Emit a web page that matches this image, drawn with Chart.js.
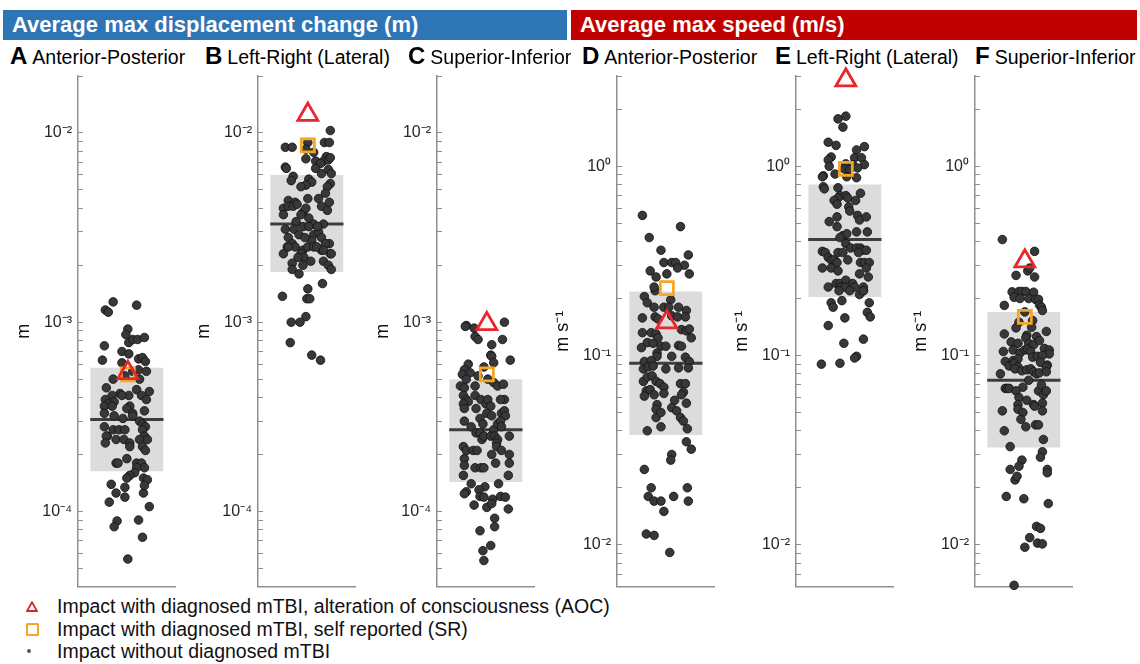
<!DOCTYPE html>
<html>
<head>
<meta charset="utf-8">
<script src="https://cdn.jsdelivr.net/npm/chart.js@4.4.1/dist/chart.umd.min.js"></script>
<style>
  body { margin: 0; width: 1140px; height: 664px; background: #fff; position: relative; overflow: hidden;
         font-family: "Liberation Sans", Arial, Helvetica, sans-serif; }
  .bar { position: absolute; top: 10px; height: 30px; line-height: 30px; color: #fff; font-weight: bold;
         font-size: 22px; padding-left: 9px; box-sizing: border-box; white-space: nowrap; }
  .ttl { position: absolute; top: 43px; font-size: 19.5px; line-height: 26px; color: #000; white-space: nowrap; }
  .ttl b { font-size: 24px; margin-right: 5px; }
  .panel { position: absolute; }
  .legend { position: absolute; left: 0; top: 595px; font-size: 19.5px; color: #111; }
  .legend .row { position: relative; height: 22.5px; line-height: 22.5px; padding-left: 57px; white-space: nowrap; }
  .legend svg { position: absolute; left: 26px; top: 6px; }
  .legend .sq { position: absolute; left: 26px; top: 5px; width: 9px; height: 9px; border: 2.5px solid #f5a623; border-radius: 1.5px; }
  .legend .dot { position: absolute; left: 27px; top: 9px; width: 4px; height: 4px; border-radius: 50%; background: #555; }
</style>
</head>
<body>
<div class="bar" style="left:3px;width:564px;background:#2e75b6;">Average max displacement change (m)</div>
<div class="bar" style="left:571px;width:566px;background:#c00000;">Average max speed (m/s)</div>

<div class="legend">
  <div class="row"><svg width="12" height="11"><polygon points="6,1.2 11,10 1,10" fill="none" stroke="#d42a2f" stroke-width="1.8"/></svg>Impact with diagnosed mTBI, alteration of consciousness (AOC)</div>
  <div class="row"><span class="sq"></span>Impact with diagnosed mTBI, self reported (SR)</div>
  <div class="row"><span class="dot"></span>Impact without diagnosed mTBI</div>
</div>

<script>
// panel titles
const panelLetters = ["A", "B", "C", "D", "E", "F"];
const panelNames = ["Anterior-Posterior", "Left-Right (Lateral)", "Superior-Inferior",
                    "Anterior-Posterior", "Left-Right (Lateral)", "Superior-Inferior"];

// axis ranges and decade ticks
const dispRange = [4e-5, 2e-2];
const speedRange = [6e-3, 3];
const dispDecades = [1e-5, 1e-4, 1e-3, 1e-2];
const speedDecades = [1e-3, 1e-2, 1e-1, 1];
const tickSteps = [1, 2, 3, 4, 5, 6, 7, 8, 9];

// boxes: 25th percentile, median, 75th percentile (AP, LR, SI)
const dispQ1 = [1.63e-4, 1.84e-3, 1.43e-4];
const dispMedian = [3.06e-4, 3.3e-3, 2.7e-4];
const dispQ3 = [5.75e-4, 6.0e-3, 5.0e-4];
const speedQ1 = [0.038, 0.204, 0.0326];
const speedMedian = [0.091, 0.41, 0.074];
const speedQ3 = [0.218, 0.80, 0.17];

// diagnosed impacts (AP, LR, SI)
const dispAOC = [5.4e-4, 1.25e-2, 9.8e-4];
const dispSR = [5.3e-4, 8.6e-3, 5.3e-4];
const speedAOC = [0.15, 2.85, 0.315];
const speedSR = [0.227, 0.97, 0.16];

// impacts without diagnosis: [jitter, value]
const dispAP = [[0.36,1.28e-3],[0.28,1.16e-3],[0.31,1.13e-3],[0.60,1.23e-3],[0.51,9.2e-4],[0.49,8.6e-4],[0.27,7.5e-4],
  [0.52,7.8e-4],[0.56,8.1e-4],[0.61,8.1e-4],[0.68,8.3e-4],[0.45,7.0e-4],[0.52,6.8e-4],[0.25,6.3e-4],[0.62,6.4e-4],
  [0.66,6.5e-4],[0.69,6.2e-4],[0.45,6.1e-4],[0.56,5.5e-4],[0.62,5.6e-4],[0.70,5.5e-4],[0.36,5.0e-4],[0.48,5.2e-4],
  [0.63,5.0e-4],[0.29,4.5e-4],[0.60,4.4e-4],[0.73,4.3e-4],[0.43,4.2e-4],[0.52,4.1e-4],[0.35,4.1e-4],[0.45,4.1e-4],
  [0.65,4.1e-4],[0.28,3.9e-4],[0.37,3.8e-4],[0.53,3.6e-4],[0.70,3.9e-4],[0.31,3.7e-4],[0.27,3.6e-4],[0.35,3.6e-4],
  [0.50,3.5e-4],[0.68,3.4e-4],[0.56,3.3e-4],[0.27,3.3e-4],[0.37,3.2e-4],[0.46,3.1e-4],[0.56,3.2e-4],[0.63,3.0e-4],
  [0.66,2.9e-4],[0.27,2.8e-4],[0.36,2.7e-4],[0.42,2.7e-4],[0.48,2.7e-4],[0.69,2.8e-4],[0.66,2.7e-4],[0.30,2.5e-4],
  [0.29,2.5e-4],[0.39,2.4e-4],[0.47,2.4e-4],[0.68,2.5e-4],[0.71,2.4e-4],[0.53,2.3e-4],[0.63,2.4e-4],[0.28,2.3e-4],
  [0.53,2.2e-4],[0.66,2.2e-4],[0.50,1.9e-4],[0.39,1.8e-4],[0.41,1.8e-4],[0.60,1.8e-4],[0.69,2.1e-4],[0.65,1.8e-4],
  [0.60,1.7e-4],[0.58,1.6e-4],[0.53,1.55e-4],[0.50,1.5e-4],[0.68,1.7e-4],[0.67,1.5e-4],[0.71,1.47e-4],[0.48,1.34e-4],
  [0.39,1.25e-4],[0.48,1.19e-4],[0.67,1.25e-4],[0.32,1.12e-4],[0.73,1.06e-4],[0.40,8.9e-5],[0.37,8.3e-5],[0.62,9.0e-5],
  [0.66,7.3e-5],[0.51,5.6e-5],[0.34,1.39e-4],[0.68,1.37e-4]];

const dispLR = [[0.74,1.03e-2],[0.28,8.4e-3],[0.35,8.4e-3],[0.51,8.9e-3],[0.68,8.9e-3],[0.73,8.9e-3],[0.49,8.2e-3],
  [0.57,7.9e-3],[0.70,7.5e-3],[0.49,7.3e-3],[0.59,7.1e-3],[0.67,7.1e-3],[0.72,7.2e-3],[0.74,7.4e-3],[0.64,6.9e-3],
  [0.28,6.6e-3],[0.29,6.5e-3],[0.59,6.5e-3],[0.72,6.4e-3],[0.36,5.9e-3],[0.34,5.6e-3],[0.65,6.1e-3],[0.75,6.1e-3],
  [0.52,5.7e-3],[0.55,5.5e-3],[0.49,5.3e-3],[0.74,5.4e-3],[0.71,5.2e-3],[0.44,5.2e-3],[0.69,4.8e-3],[0.51,4.5e-3],
  [0.31,4.4e-3],[0.62,4.5e-3],[0.38,4.3e-3],[0.26,4.0e-3],[0.26,3.7e-3],[0.31,4.1e-3],[0.36,4.1e-3],[0.40,4.2e-3],
  [0.46,3.8e-3],[0.49,4.0e-3],[0.65,4.1e-3],[0.71,3.9e-3],[0.73,4.3e-3],[0.44,3.7e-3],[0.52,3.55e-3],[0.39,3.4e-3],
  [0.46,3.2e-3],[0.57,3.3e-3],[0.67,3.3e-3],[0.28,3.1e-3],[0.37,3.1e-3],[0.52,3.2e-3],[0.42,2.9e-3],[0.57,2.9e-3],
  [0.62,3.0e-3],[0.31,2.8e-3],[0.35,2.6e-3],[0.55,2.7e-3],[0.65,2.8e-3],[0.73,2.6e-3],[0.30,2.5e-3],[0.46,2.4e-3],
  [0.38,2.5e-3],[0.51,2.5e-3],[0.57,2.5e-3],[0.65,2.4e-3],[0.69,2.6e-3],[0.74,2.3e-3],[0.26,2.3e-3],[0.44,2.3e-3],
  [0.47,2.2e-3],[0.54,2.1e-3],[0.60,2.5e-3],[0.67,2.4e-3],[0.75,2.3e-3],[0.35,2.05e-3],[0.46,2.0e-3],[0.67,2.1e-3],
  [0.72,2.0e-3],[0.35,1.9e-3],[0.42,1.8e-3],[0.75,1.9e-3],[0.66,1.6e-3],[0.51,1.5e-3],[0.25,1.37e-3],[0.50,1.33e-3],
  [0.53,1.33e-3],[0.49,1.07e-3],[0.34,1.0e-3],[0.43,1.0e-3],[0.33,7.8e-4],[0.55,6.7e-4],[0.64,6.3e-4],[0.31,2.5e-3],
  [0.41,2.2e-3],[0.48,2.8e-3],[0.61,3.2e-3]];

const dispSI = [[0.30,9.6e-4],[0.29,9.5e-4],[0.38,9.3e-4],[0.39,8.4e-4],[0.42,8.1e-4],[0.69,1.0e-3],[0.56,7.6e-4],
  [0.67,8.1e-4],[0.55,6.7e-4],[0.56,6.6e-4],[0.75,6.3e-4],[0.58,6.1e-4],[0.48,5.8e-4],[0.32,6.0e-4],[0.28,5.6e-4],
  [0.26,5.3e-4],[0.34,5.4e-4],[0.30,5.0e-4],[0.24,4.6e-4],[0.28,4.5e-4],[0.39,4.6e-4],[0.42,5.2e-4],[0.52,5.0e-4],
  [0.58,4.8e-4],[0.62,4.6e-4],[0.68,4.7e-4],[0.69,3.9e-4],[0.65,3.9e-4],[0.27,4.1e-4],[0.30,3.9e-4],[0.32,3.8e-4],
  [0.27,3.7e-4],[0.28,3.5e-4],[0.39,4.1e-4],[0.45,3.9e-4],[0.50,3.7e-4],[0.52,3.9e-4],[0.55,3.6e-4],[0.40,3.5e-4],
  [0.66,3.3e-4],[0.69,3.4e-4],[0.70,3.2e-4],[0.28,3.0e-4],[0.35,2.8e-4],[0.44,3.1e-4],[0.47,2.9e-4],[0.51,3.3e-4],
  [0.56,3.2e-4],[0.58,2.7e-4],[0.62,2.9e-4],[0.65,3.0e-4],[0.66,2.8e-4],[0.40,2.6e-4],[0.44,2.6e-4],[0.46,2.4e-4],
  [0.48,2.5e-4],[0.55,2.5e-4],[0.59,2.5e-4],[0.62,2.4e-4],[0.61,2.3e-4],[0.74,2.5e-4],[0.27,2.2e-4],[0.30,2.1e-4],
  [0.37,2.1e-4],[0.41,2.1e-4],[0.56,2.0e-4],[0.61,2.2e-4],[0.66,2.1e-4],[0.74,2.0e-4],[0.74,1.8e-4],[0.28,1.9e-4],
  [0.28,1.75e-4],[0.39,1.7e-4],[0.45,1.7e-4],[0.48,1.7e-4],[0.60,1.8e-4],[0.73,1.55e-4],[0.27,1.55e-4],[0.63,1.4e-4],
  [0.35,1.4e-4],[0.49,1.35e-4],[0.30,1.27e-4],[0.43,1.3e-4],[0.28,1.24e-4],[0.44,1.2e-4],[0.48,1.19e-4],[0.57,1.16e-4],
  [0.65,1.2e-4],[0.70,1.19e-4],[0.38,1.08e-4],[0.51,1.05e-4],[0.56,1.1e-4],[0.73,1.03e-4],[0.59,9.2e-5],[0.59,8.3e-5],
  [0.44,7.9e-5],[0.55,6.6e-5],[0.47,6.2e-5],[0.48,5.5e-5]];

const speedAP = [[0.26,0.55],[0.65,0.48],[0.33,0.42],[0.45,0.36],[0.73,0.34],[0.48,0.31],[0.56,0.31],[0.60,0.31],
  [0.69,0.30],[0.74,0.27],[0.34,0.28],[0.62,0.29],[0.51,0.27],[0.40,0.26],[0.39,0.22],[0.38,0.23],[0.28,0.205],
  [0.31,0.19],[0.55,0.197],[0.38,0.18],[0.48,0.18],[0.53,0.18],[0.63,0.18],[0.71,0.173],[0.26,0.158],[0.39,0.16],
  [0.42,0.156],[0.56,0.162],[0.62,0.16],[0.70,0.16],[0.26,0.132],[0.35,0.132],[0.40,0.13],[0.42,0.124],[0.66,0.137],
  [0.71,0.135],[0.74,0.138],[0.76,0.124],[0.31,0.117],[0.25,0.11],[0.37,0.116],[0.45,0.112],[0.50,0.112],[0.63,0.113],
  [0.66,0.112],[0.41,0.103],[0.41,0.099],[0.28,0.093],[0.35,0.094],[0.56,0.099],[0.70,0.098],[0.74,0.093],[0.27,0.085],
  [0.32,0.087],[0.37,0.088],[0.50,0.085],[0.63,0.086],[0.73,0.086],[0.27,0.073],[0.31,0.077],[0.36,0.078],[0.40,0.073],
  [0.44,0.071],[0.48,0.068],[0.65,0.071],[0.70,0.071],[0.30,0.065],[0.34,0.066],[0.28,0.061],[0.38,0.062],[0.48,0.063],
  [0.68,0.064],[0.66,0.062],[0.59,0.058],[0.71,0.056],[0.41,0.055],[0.40,0.052],[0.40,0.047],[0.45,0.05],[0.56,0.053],
  [0.61,0.051],[0.65,0.047],[0.68,0.045],[0.72,0.041],[0.45,0.042],[0.31,0.040],[0.71,0.035],[0.76,0.032],[0.56,0.030],
  [0.55,0.028],[0.28,0.025],[0.35,0.020],[0.32,0.018],[0.38,0.017],[0.45,0.017],[0.58,0.018],[0.72,0.020],[0.73,0.017],
  [0.48,0.015],[0.30,0.0114],[0.38,0.0112],[0.54,0.0091]];

const speedLR = [[0.51,1.84],[0.43,1.78],[0.48,1.61],[0.33,1.34],[0.41,1.29],[0.70,1.27],[0.62,1.22],[0.36,1.12],
  [0.60,1.11],[0.67,1.11],[0.33,1.08],[0.34,1.0],[0.51,1.03],[0.58,1.02],[0.70,1.02],[0.63,0.98],[0.49,0.97],[0.55,0.96],
  [0.40,0.91],[0.28,0.89],[0.27,0.88],[0.52,0.88],[0.62,0.87],[0.43,0.77],[0.28,0.78],[0.29,0.76],[0.45,0.70],[0.51,0.70],
  [0.66,0.72],[0.53,0.68],[0.43,0.68],[0.39,0.66],[0.42,0.63],[0.61,0.66],[0.54,0.61],[0.55,0.58],[0.63,0.55],[0.42,0.54],
  [0.65,0.52],[0.34,0.51],[0.42,0.48],[0.62,0.45],[0.73,0.45],[0.48,0.43],[0.52,0.44],[0.45,0.42],[0.51,0.39],[0.56,0.37],
  [0.62,0.37],[0.66,0.37],[0.68,0.36],[0.27,0.355],[0.30,0.35],[0.43,0.35],[0.48,0.35],[0.64,0.35],[0.72,0.36],[0.33,0.33],
  [0.36,0.32],[0.39,0.32],[0.42,0.31],[0.53,0.32],[0.27,0.29],[0.36,0.29],[0.43,0.28],[0.66,0.31],[0.70,0.31],[0.75,0.31],
  [0.72,0.29],[0.65,0.27],[0.74,0.26],[0.33,0.23],[0.41,0.24],[0.45,0.24],[0.51,0.25],[0.58,0.24],[0.46,0.23],[0.50,0.23],
  [0.44,0.22],[0.60,0.23],[0.69,0.23],[0.69,0.22],[0.65,0.21],[0.55,0.22],[0.47,0.195],[0.36,0.19],[0.38,0.18],[0.75,0.19],
  [0.73,0.169],[0.76,0.16],[0.50,0.158],[0.33,0.144],[0.69,0.122],[0.49,0.116],[0.62,0.099],[0.60,0.097],[0.45,0.091],
  [0.26,0.09],[0.72,0.54],[0.69,0.22]];

const speedSI = [[0.28,0.41],[0.61,0.355],[0.42,0.265],[0.54,0.28],[0.56,0.29],[0.61,0.26],[0.38,0.217],[0.45,0.218],
  [0.48,0.218],[0.52,0.218],[0.60,0.216],[0.40,0.203],[0.46,0.20],[0.55,0.20],[0.62,0.198],[0.65,0.198],[0.66,0.185],
  [0.30,0.184],[0.68,0.18],[0.69,0.173],[0.51,0.17],[0.45,0.15],[0.59,0.153],[0.42,0.14],[0.58,0.141],[0.73,0.134],
  [0.30,0.13],[0.53,0.128],[0.63,0.126],[0.37,0.118],[0.44,0.116],[0.52,0.124],[0.55,0.116],[0.60,0.114],[0.66,0.12],
  [0.29,0.105],[0.39,0.107],[0.46,0.103],[0.51,0.107],[0.54,0.108],[0.57,0.105],[0.71,0.109],[0.76,0.107],[0.76,0.102],
  [0.31,0.093],[0.39,0.094],[0.44,0.096],[0.59,0.098],[0.64,0.099],[0.69,0.10],[0.74,0.089],[0.35,0.088],[0.40,0.091],
  [0.44,0.087],[0.41,0.085],[0.67,0.092],[0.73,0.087],[0.26,0.080],[0.48,0.083],[0.53,0.084],[0.57,0.085],[0.60,0.082],
  [0.63,0.080],[0.66,0.081],[0.73,0.082],[0.55,0.074],[0.49,0.068],[0.31,0.067],[0.33,0.067],[0.35,0.067],[0.42,0.065],
  [0.45,0.06],[0.65,0.065],[0.68,0.07],[0.70,0.062],[0.73,0.065],[0.44,0.055],[0.44,0.052],[0.53,0.058],[0.60,0.055],
  [0.61,0.054],[0.69,0.056],[0.49,0.05],[0.47,0.046],[0.52,0.042],[0.62,0.043],[0.65,0.043],[0.69,0.051],[0.28,0.051],
  [0.30,0.040],[0.36,0.033],[0.70,0.036],[0.69,0.031],[0.67,0.029],[0.48,0.028],[0.45,0.026],[0.36,0.025],[0.41,0.022],
  [0.43,0.023],[0.74,0.025],[0.74,0.024],[0.32,0.018],[0.50,0.0175],[0.75,0.0165],[0.63,0.0125],[0.67,0.0122],
  [0.56,0.0109],[0.64,0.0102],[0.69,0.0101],[0.51,0.0097],[0.40,0.0061]];

// layout
const panelAxisX = [78, 258, 437, 617, 796, 975];
const panelTitleX = [10, 205, 408, 582, 775, 975];
const axisGray = "#8f8f8f";
const markerX = 0.51;

Chart.defaults.font.family = '"Liberation Sans", Arial, Helvetica, sans-serif';

const SUP = { "-": "\u207B", "0": "\u2070", "1": "\u00B9", "2": "\u00B2", "3": "\u00B3", "4": "\u2074", "5": "\u2075" };
function powLabel(v) {
  const lg = Math.log10(v);
  const e = Math.round(lg);
  if (Math.abs(lg - e) > 1e-6) return "";
  return "10" + String(e).split("").map((c) => SUP[c]).join("");
}

function drawPanel(i, dots, q1, med, q3, aoc, sr, range, decades, unit) {
  const axisX = panelAxisX[i];

  const title = document.createElement("div");
  title.className = "ttl";
  title.style.left = panelTitleX[i] + "px";
  title.innerHTML = "<b>" + panelLetters[i] + "</b>" + panelNames[i];
  document.body.appendChild(title);

  const canvas = document.createElement("canvas");
  canvas.className = "panel";
  canvas.width = 182;
  canvas.height = 541;
  canvas.style.left = axisX - 70 + "px";
  canvas.style.top = "60px";
  document.body.appendChild(canvas);

  const tickVals = [];
  decades.forEach((d) => tickSteps.forEach((s) => {
    const v = s * d;
    if (v >= range[0] && v <= range[1]) tickVals.push(v);
  }));

  new Chart(canvas, {
    type: "scatter",
    data: {
      datasets: [
        {
          type: "line", data: [{ x: 0.125, y: q3 }, { x: 0.875, y: q3 }],
          borderWidth: 0, pointRadius: 0, fill: "+1", backgroundColor: "#dcdcdc", order: 10,
        },
        {
          type: "line", data: [{ x: 0.125, y: q1 }, { x: 0.875, y: q1 }],
          borderWidth: 0, pointRadius: 0, fill: false, order: 10,
        },
        {
          type: "line", data: [{ x: 0.125, y: med }, { x: 0.875, y: med }],
          borderColor: "#3d3d3d", borderWidth: 3, pointRadius: 0, fill: false, order: 5,
        },
        {
          data: dots.map((p) => ({ x: p[0], y: p[1] })),
          pointRadius: 4.3, backgroundColor: "#383838", borderColor: "#111", borderWidth: 0.8,
          clip: false, order: 3,
        },
        {
          data: [{ x: markerX, y: sr }],
          pointStyle: "rect", pointRadius: 9.2, backgroundColor: "rgba(0,0,0,0)",
          borderColor: "#f5a623", borderWidth: 2.8, clip: false, order: 2,
        },
        {
          data: [{ x: markerX, y: aoc }],
          pointStyle: "triangle", pointRadius: 11.5, backgroundColor: "rgba(0,0,0,0)",
          borderColor: "#e8262b", borderWidth: 2.8, clip: false, order: 1,
        },
      ],
    },
    options: {
      responsive: false,
      animation: false,
      devicePixelRatio: 1,
      layout: { padding: { top: 16, bottom: 6, left: 0, right: 8 } },
      plugins: { legend: { display: false }, tooltip: { enabled: false } },
      scales: {
        x: {
          type: "linear", min: 0, max: 1,
          ticks: { display: false },
          grid: { display: false },
          border: { color: axisGray, width: 1.5 },
          afterFit: (s) => { s.height = 0; s.paddingLeft = 0; s.paddingRight = 0; },
        },
        y: {
          type: "logarithmic", min: range[0], max: range[1],
          border: { color: axisGray, width: 1.5 },
          grid: { drawOnChartArea: false, drawTicks: true, tickLength: -5, tickColor: axisGray, tickWidth: 1 },
          afterBuildTicks: (s) => { s.ticks = tickVals.map((v) => ({ value: v })); },
          ticks: {
            autoSkip: false, padding: 11, color: "#262626", font: { size: 16 },
            callback: (v) => powLabel(v),
          },
          title: {
            display: true, text: unit, color: "#111",
            font: { size: 18, lineHeight: 1 }, padding: { top: 7, bottom: 0 },
          },
          afterFit: (s) => { s.width = 70; s.paddingTop = 0; s.paddingBottom = 0; },
        },
      },
    },
  });
}

const dispSets = [dispAP, dispLR, dispSI];
const speedSets = [speedAP, speedLR, speedSI];
for (let k = 0; k < 3; k++) {
  drawPanel(k, dispSets[k], dispQ1[k], dispMedian[k], dispQ3[k], dispAOC[k], dispSR[k],
            dispRange, dispDecades, "m");
  drawPanel(k + 3, speedSets[k], speedQ1[k], speedMedian[k], speedQ3[k], speedAOC[k], speedSR[k],
            speedRange, speedDecades, "m s\u207B\u00B9");
}
</script>
</body>
</html>
